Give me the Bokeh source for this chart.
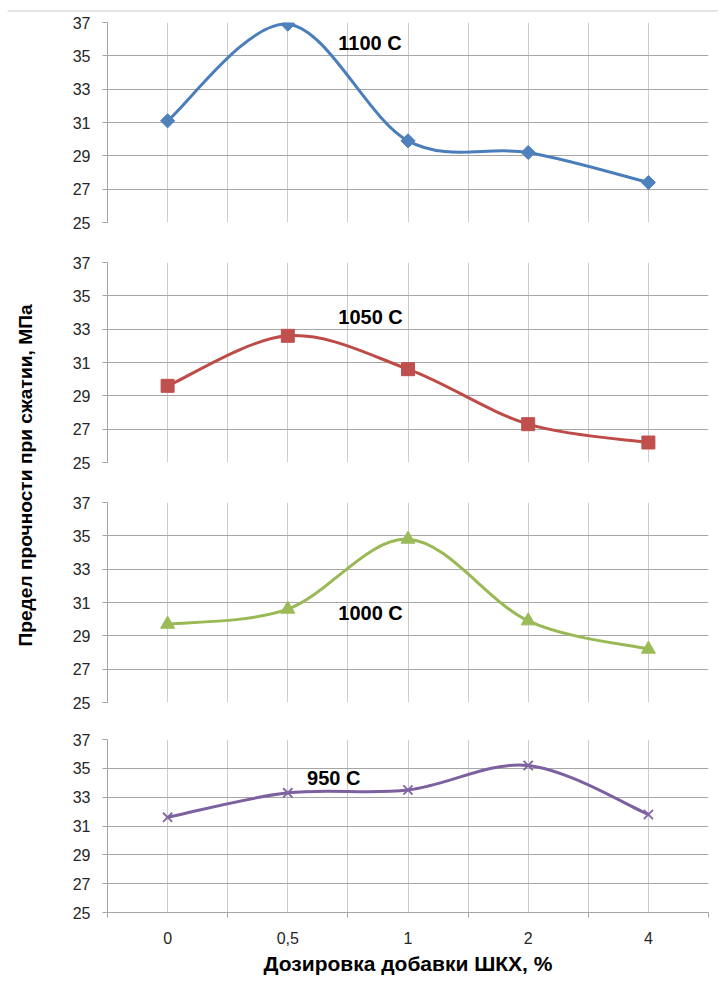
import numpy as np
from math import pi
from bokeh.plotting import figure
from bokeh.layouts import column, row
from bokeh.models import Range1d, FixedTicker, Label
from bokeh.embed import file_html
from bokeh.resources import INLINE

# ---- data ----
categories = ["0", "0,5", "1", "2", "4"]
y_ticks = [25, 27, 29, 31, 33, 35, 37]
s1100 = [31.1, 36.9, 29.9, 29.2, 27.4]
s1050 = [29.6, 32.6, 30.6, 27.3, 26.2]
s1000 = [29.7, 30.6, 34.8, 29.9, 28.2]
s950 = [31.6, 33.3, 33.5, 35.2, 31.8]
series_names = ["1100 C", "1050 C", "1000 C", "950 C"]
y_title = "Предел прочности при сжатии, МПа"
x_title = "Дозировка добавки ШКХ, %"

FONT = "Liberation Sans"
HGRID = "#a6a6a6"
VGRID = "#cdcdcd"

series = [s1100, s1050, s1000, s950]
line_colors = ["#4A7EBB", "#BE4B48", "#98B954", "#7D60A0"]
mark_colors = ["#4F81BD", "#C0504D", "#9BBB59", "#8064A2"]
# (marker, size, angle)
markers = [("square", 10, pi / 4), ("square", 13, 0), ("triangle", 14, 0), ("x", 13, 0)]
label_pos = [(1.42, 35.8), (1.42, 33.75), (1.42, 30.35), (1.16, 34.35)]
heights = [230, 240, 238, 258]
borders_top = [10, 20, 20, 19]
borders_bottom = [20, 20, 18, 66]

xpos = np.arange(len(categories), dtype=float)
centers = list(range(len(categories)))
bounds = [i - 0.5 for i in range(len(categories) + 1)]


def smooth_segments(x, y):
    x = np.asarray(x, float)
    y = np.asarray(y, float)
    n = len(x)
    xp = np.concatenate([[x[0]], x, [x[-1]]])
    yp = np.concatenate([[y[0]], y, [y[-1]]])
    x0, y0, x1, y1 = x[:-1], y[:-1], x[1:], y[1:]
    cx0 = x0 + (xp[2:n + 1] - xp[0:n - 1]) / 6.0
    cy0 = y0 + (yp[2:n + 1] - yp[0:n - 1]) / 6.0
    cx1 = x1 - (xp[3:n + 2] - xp[1:n]) / 6.0
    cy1 = y1 - (yp[3:n + 2] - yp[1:n]) / 6.0
    return dict(x0=x0, y0=y0, x1=x1, y1=y1, cx0=cx0, cy0=cy0, cx1=cx1, cy1=cy1)


panels = []
for i, ys in enumerate(series):
    last = i == len(series) - 1
    p = figure(width=670, height=heights[i], output_backend="svg", toolbar_location=None,
               x_range=Range1d(-0.5, len(categories) - 0.5),
               y_range=Range1d(y_ticks[0], y_ticks[-1]),
               min_border_left=59, min_border_right=10,
               min_border_top=borders_top[i], min_border_bottom=borders_bottom[i])
    p.outline_line_color = None
    p.background_fill_color = "white"
    p.border_fill_color = "white"

    # y axis
    p.yaxis.ticker = FixedTicker(ticks=y_ticks)
    p.yaxis.axis_line_color = HGRID
    p.yaxis.major_tick_line_color = HGRID
    p.yaxis.major_tick_out = 5
    p.yaxis.major_tick_in = 0
    p.yaxis.minor_tick_line_color = None
    p.yaxis.major_label_text_font = FONT
    p.yaxis.major_label_text_font_size = "16px"
    p.yaxis.major_label_text_color = "#262626"
    p.yaxis.major_label_standoff = 12

    # grids
    p.ygrid.ticker = FixedTicker(ticks=y_ticks)
    p.ygrid.grid_line_color = HGRID
    xt = FixedTicker(ticks=centers, minor_ticks=bounds)
    p.xgrid.ticker = xt
    p.xgrid.grid_line_color = VGRID
    p.xgrid.minor_grid_line_color = VGRID
    p.xgrid.level = "underlay"
    p.ygrid.level = "underlay"

    if last:
        p.xaxis.ticker = xt
        p.xaxis.major_label_overrides = {c: lab for c, lab in zip(centers, categories)}
        p.xaxis.axis_line_color = HGRID
        p.xaxis.major_tick_out = 0
        p.xaxis.major_tick_in = 0
        p.xaxis.minor_tick_out = 5
        p.xaxis.minor_tick_in = 0
        p.xaxis.minor_tick_line_color = HGRID
        p.xaxis.major_label_text_font = FONT
        p.xaxis.major_label_text_font_size = "16px"
        p.xaxis.major_label_text_color = "#262626"
        p.xaxis.major_label_standoff = 14
        p.xaxis.axis_label = x_title
        p.xaxis.axis_label_text_font = FONT
        p.xaxis.axis_label_text_font_style = "bold"
        p.xaxis.axis_label_text_font_size = "21px"
        p.xaxis.axis_label_text_color = "black"
        p.xaxis.axis_label_standoff = 5
    else:
        p.xaxis.visible = False

    seg = smooth_segments(xpos, ys)
    p.bezier(line_color=line_colors[i], line_width=3, **seg)
    mk, sz, ang = markers[i]
    if mk == "x":
        p.scatter(xpos, ys, marker=mk, size=sz, line_color=mark_colors[i], line_width=1.8)
    else:
        p.scatter(xpos, ys, marker=mk, size=sz, angle=ang, fill_color=mark_colors[i],
                  line_color=mark_colors[i])

    lx, ly = label_pos[i]
    p.add_layout(Label(x=lx, y=ly, text=series_names[i], text_font=FONT,
                       text_font_style="bold", text_font_size="20px", text_color="black",
                       text_align="left", text_baseline="middle"))
    panels.append(p)

total_h = sum(heights)
lab = figure(width=48, height=total_h, output_backend="svg", toolbar_location=None,
             x_range=Range1d(0, 48), y_range=Range1d(0, total_h), min_border=0)
lab.axis.visible = False
lab.grid.visible = False
lab.outline_line_color = None
lab.add_layout(Label(x=25, y=total_h - 463, text=y_title, angle=pi / 2, text_font=FONT,
                     text_font_style="bold", text_font_size="19.2px", text_color="black",
                     text_align="center", text_baseline="middle"))

# thin top border line of the chart area: a 1px-high grey frame
top = figure(width=718, height=12, output_backend="svg", toolbar_location=None,
             x_range=Range1d(0, 1), y_range=Range1d(0, 1), min_border=0,
             min_border_left=7, min_border_top=10, min_border_bottom=1)
top.axis.visible = False
top.grid.visible = False
top.outline_line_color = None
top.background_fill_color = "#cccccc"
top.border_fill_color = "white"

layout = column(top, row(lab, column(*panels, spacing=0), spacing=0), spacing=0)

open("out.html", "w").write(file_html(layout, INLINE))
